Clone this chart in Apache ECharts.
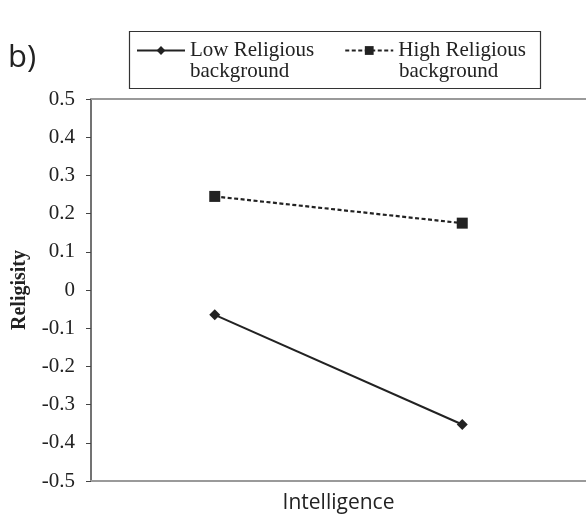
<!DOCTYPE html>
<html>
<head>
<meta charset="utf-8">
<script src="https://cdn.jsdelivr.net/npm/echarts@6/dist/echarts.min.js"></script>
<style>
html,body{margin:0;padding:0;background:#fff;}
#chart{width:586px;height:519px;}
</style>
</head>
<body>
<div id="chart"></div>
<script>
var categories = ['Low Intelligence', 'High Intelligence'];
var lowReligiousBackground = [-0.065, -0.352];
var highReligiousBackground = [0.245, 0.175];
var seriesNames = ['Low Religious', 'High Religious'];
var legendSecondLine = 'background';
var yMin = -0.5, yMax = 0.5, yStep = 0.1;

var chart = echarts.init(document.getElementById('chart'), null, {renderer: 'canvas'});
var ink = '#222';
var serif = '"Liberation Serif", "Times New Roman", serif';
var sans = '"Open Sans", "Noto Sans", sans-serif';

chart.setOption({
  animation: false,
  backgroundColor: '#fff',
  grid: {left: 91, right: -5, top: 99, bottom: 37, containLabel: false},
  legend: {
    left: 136, top: 40, padding: 0,
    itemWidth: 48, itemHeight: 11, itemGap: 30,
    selectedMode: false,
    textStyle: {fontFamily: serif, fontSize: 21, color: ink, lineHeight: 21},
    data: seriesNames
  },
  graphic: [
    {type: 'rect', shape: {x: 129.5, y: 31.5, width: 411, height: 57}, style: {fill: 'none', stroke: '#333', lineWidth: 1.2}, silent: true},
    {type: 'text', left: 190, top: 61, style: {text: legendSecondLine, font: '21px ' + serif, fill: ink}},
    {type: 'text', left: 399, top: 61, style: {text: legendSecondLine, font: '21px ' + serif, fill: ink}},
    {type: 'text', x: 8, y: 43, style: {text: 'b)', font: '31px ' + sans, fill: ink, verticalAlign: 'alphabetic'}}
  ],
  xAxis: [{
    type: 'category', data: categories, boundaryGap: true, position: 'bottom',
    name: 'Intelligence', nameLocation: 'middle', nameGap: 12,
    nameTextStyle: {fontFamily: sans, fontSize: 21, color: ink},
    axisLine: {onZero: false, lineStyle: {color: '#9a9a9a', width: 2}},
    axisTick: {show: false}, axisLabel: {show: false}, splitLine: {show: false}
  }, {
    type: 'category', data: categories, position: 'top', boundaryGap: true,
    axisLine: {onZero: false, lineStyle: {color: '#9a9a9a', width: 2}},
    axisTick: {show: false}, axisLabel: {show: false}, splitLine: {show: false}
  }],
  yAxis: {
    type: 'value', min: yMin, max: yMax, interval: yStep,
    name: 'Religisity', nameLocation: 'middle', nameGap: 61,
    nameTextStyle: {fontFamily: serif, fontSize: 20, fontWeight: 'bold', color: ink},
    axisLine: {show: true, lineStyle: {color: '#444', width: 1.5}},
    axisTick: {show: true, length: 5, lineStyle: {color: '#444'}},
    axisLabel: {fontFamily: serif, fontSize: 21, color: ink, margin: 16,
      formatter: function (v) { return String(Math.round(v * 10) / 10); }},
    splitLine: {show: false}
  },
  series: [{
    name: seriesNames[0], type: 'line', data: lowReligiousBackground,
    symbol: 'diamond', symbolSize: 11,
    lineStyle: {color: ink, width: 2, type: 'solid'},
    itemStyle: {color: ink}
  }, {
    name: seriesNames[1], type: 'line', data: highReligiousBackground,
    symbol: 'rect', symbolSize: 11,
    lineStyle: {color: ink, width: 2.2, type: [4, 2.5]},
    itemStyle: {color: ink}
  }]
});
</script>
</body>
</html>
